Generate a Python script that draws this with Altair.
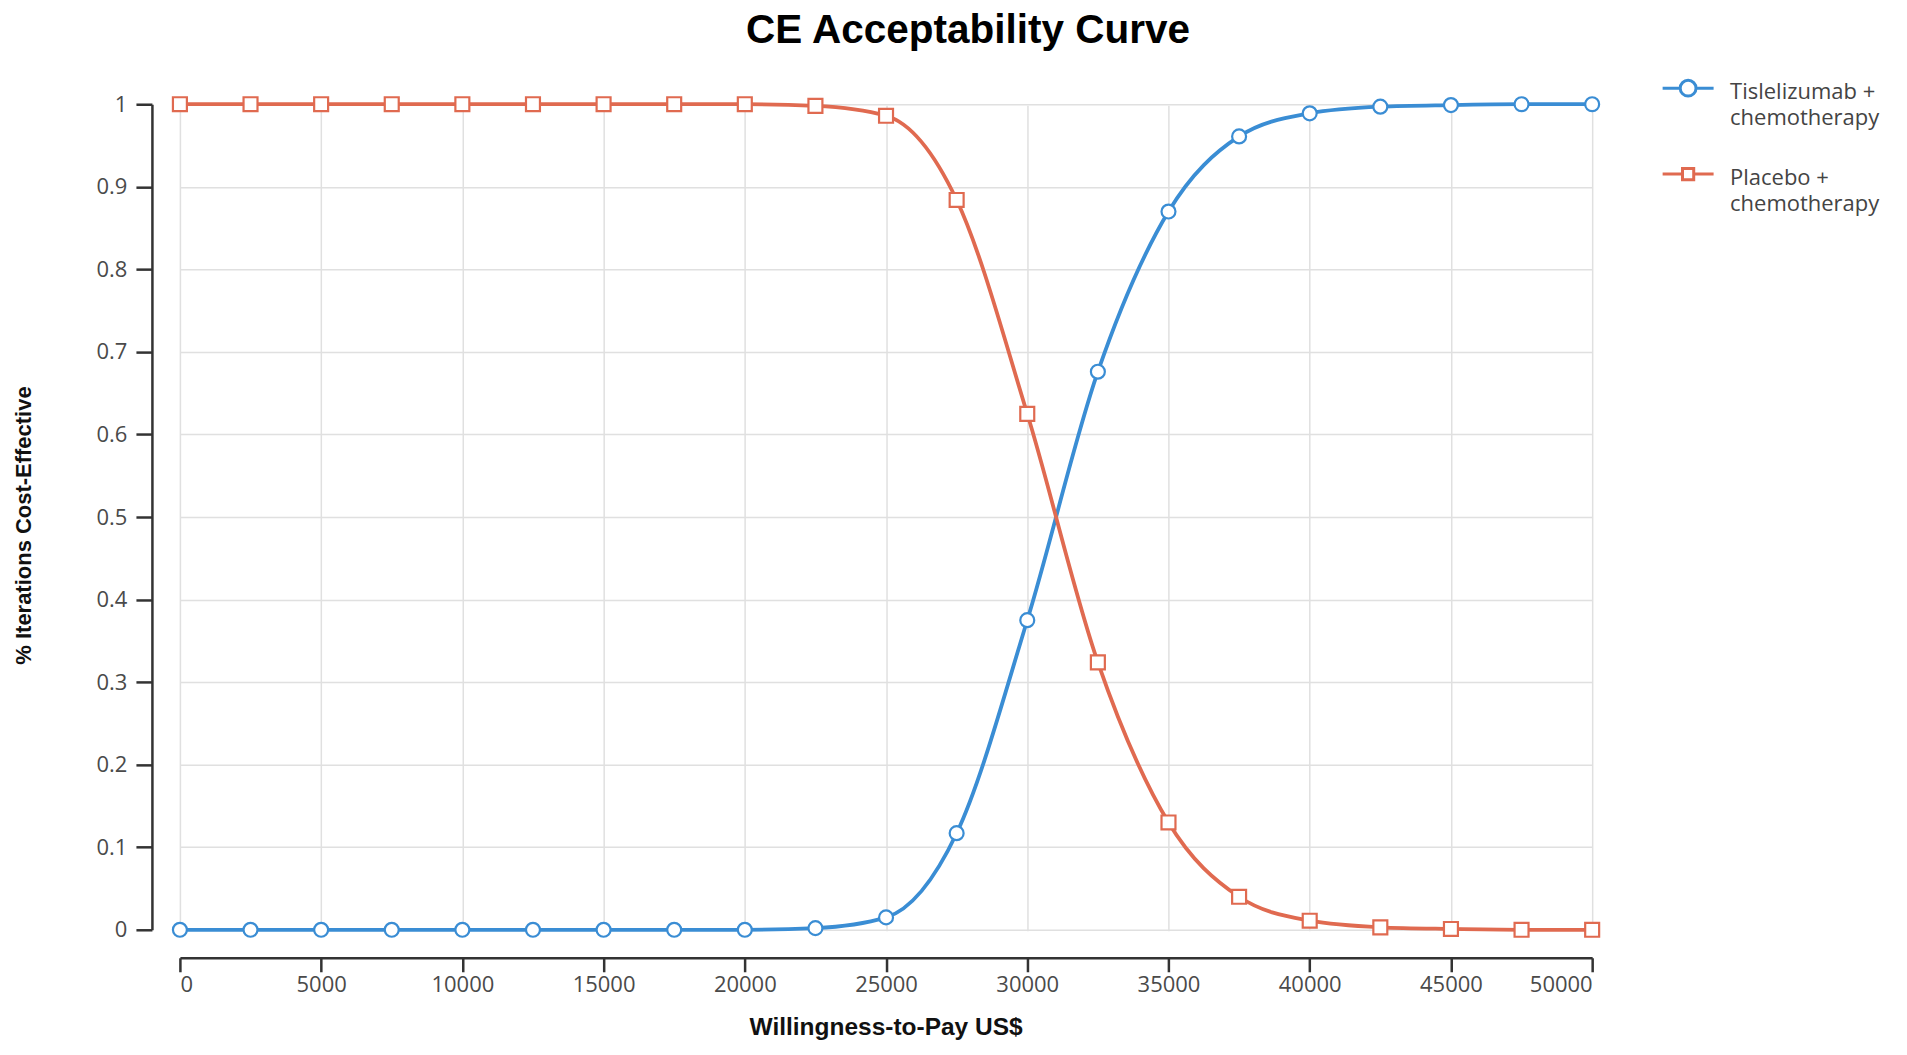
import altair as alt
import pandas as pd

# ---- data ----
wtp = [0, 2500, 5000, 7500, 10000, 12500, 15000, 17500, 20000, 22500, 25000,
       27500, 30000, 32500, 35000, 37500, 40000, 42500, 45000, 47500, 50000]
tislelizumab = [0, 0, 0, 0, 0, 0, 0, 0, 0, 0.002, 0.015,
                0.117, 0.375, 0.676, 0.870, 0.961, 0.989, 0.997, 0.999, 1.0, 1.0]
placebo = [1, 1, 1, 1, 1, 1, 1, 1, 1, 0.998, 0.986,
           0.884, 0.625, 0.324, 0.130, 0.040, 0.011, 0.003, 0.001, 0.0, 0.0]
series_names = ["Tislelizumab + chemotherapy", "Placebo + chemotherapy"]
colors = ["#3a8dd4", "#e06a50"]
x_ticks = [0, 5000, 10000, 15000, 20000, 25000, 30000, 35000, 40000, 45000, 50000]
y_ticks = [0, 0.1, 0.2, 0.3, 0.4, 0.5, 0.6, 0.7, 0.8, 0.9, 1]

df = pd.DataFrame({
    "wtp": wtp * 2,
    "value": tislelizumab + placebo,
    "series": [series_names[0]] * len(wtp) + [series_names[1]] * len(wtp),
})

W, H = 1471, 881

x_enc = alt.X(
    "wtp:Q",
    scale=alt.Scale(domain=[0, 50000], range=[28, 1441]),
    axis=alt.Axis(
        values=x_ticks, format="d", title="Willingness-to-Pay US$",
        grid=True, gridColor="#e0e0e0", gridWidth=1.5,
        domainColor="#333333", domainWidth=2.5, tickColor="#333333", tickWidth=2.5,
        tickSize=14, labelPadding=3, labelFont="Open Sans", labelFontSize=22,
        labelColor="#4a4a4a", titleFont="Liberation Sans", titleFontSize=24.5,
        titleFontWeight="bold", titleColor="#111111", titleBaseline="middle",
        titleY=70, titleX=734,
    ),
)
y_enc = alt.Y(
    "value:Q",
    scale=alt.Scale(domain=[0, 1], range=[853, 27]),
    axis=alt.Axis(
        values=y_ticks, format="~g", title="% Iterations Cost-Effective",
        grid=True, gridColor="#e0e0e0", gridWidth=1.5,
        domainColor="#333333", domainWidth=2.5, tickColor="#333333", tickWidth=2.5,
        tickSize=16, labelPadding=9, labelFont="Open Sans", labelFontSize=22,
        labelColor="#4a4a4a", titleFont="Liberation Sans", titleFontSize=22,
        titleFontWeight="bold", titleColor="#111111", titleBaseline="middle",
        titleX=-128, titleY=448, titleAngle=270,
    ),
)

base = alt.Chart(df)

lines = base.mark_line(interpolate="monotone", strokeWidth=3.8).encode(
    x=x_enc, y=y_enc,
    stroke=alt.Stroke("series:N", scale=alt.Scale(domain=series_names, range=colors), legend=None),
)

points = base.mark_point(filled=False, fill="white", size=195, strokeWidth=2.2, opacity=1).encode(
    x=x_enc, y=y_enc,
    stroke=alt.Stroke("series:N", scale=alt.Scale(domain=series_names, range=colors), legend=None),
    shape=alt.Shape("series:N", scale=alt.Scale(domain=series_names, range=["circle", "square"]), legend=None),
)

# legend glyphs: line segment with the marker in the middle (drawn slightly above centre)
circle_path = ("M-1,-0.16L-0.31,-0.16M0.31,-0.16L1,-0.16"
               "M-0.31,-0.16A0.31,0.31,0,1,1,0.31,-0.16A0.31,0.31,0,1,1,-0.31,-0.16Z")
square_path = ("M-1,-0.16L-0.22,-0.16M0.22,-0.16L1,-0.16"
               "M-0.22,-0.38L0.22,-0.38L0.22,0.06L-0.22,0.06Z")

legend_def = alt.Legend(
    title=None, orient="none", legendX=1510, legendY=-12, padding=0,
    symbolSize=2601, symbolStrokeWidth=3, symbolFillColor="white",
    labelFont="Open Sans", labelFontSize=22, labelColor="#444444",
    labelLimit=400, labelOffset=15, rowPadding=22,
    labelExpr="split(replace(datum.label, '+ ', '+|'), '|')",
)

legend_layer = base.transform_filter("false").mark_point(
    filled=False, fill="white", size=2601, strokeWidth=3, opacity=1
).encode(
    x=x_enc, y=y_enc,
    stroke=alt.Stroke("series:N", scale=alt.Scale(domain=series_names, range=colors), legend=legend_def),
    shape=alt.Shape("series:N", scale=alt.Scale(domain=series_names, range=[circle_path, square_path]), legend=legend_def),
)

chart = alt.layer(lines, points, legend_layer).resolve_scale(
    shape="independent", stroke="independent"
).resolve_legend(
    shape="independent", stroke="independent"
).properties(
    width=W, height=H,
    title=alt.TitleParams("CE Acceptability Curve", font="Liberation Sans", fontSize=40.5,
                          fontWeight="bold", color="#000000", anchor="middle", dx=81, offset=14),
    autosize=alt.AutoSizeParams(type="none"),
    padding={"left": 144, "top": 69, "right": 277, "bottom": 89},
    background="white",
).configure(
    view=alt.ViewConfig(stroke=None),
    style={"guide-label": {"lineHeight": 26}},
)

chart.save("out.html", embed_options={"renderer": "svg", "actions": False})
